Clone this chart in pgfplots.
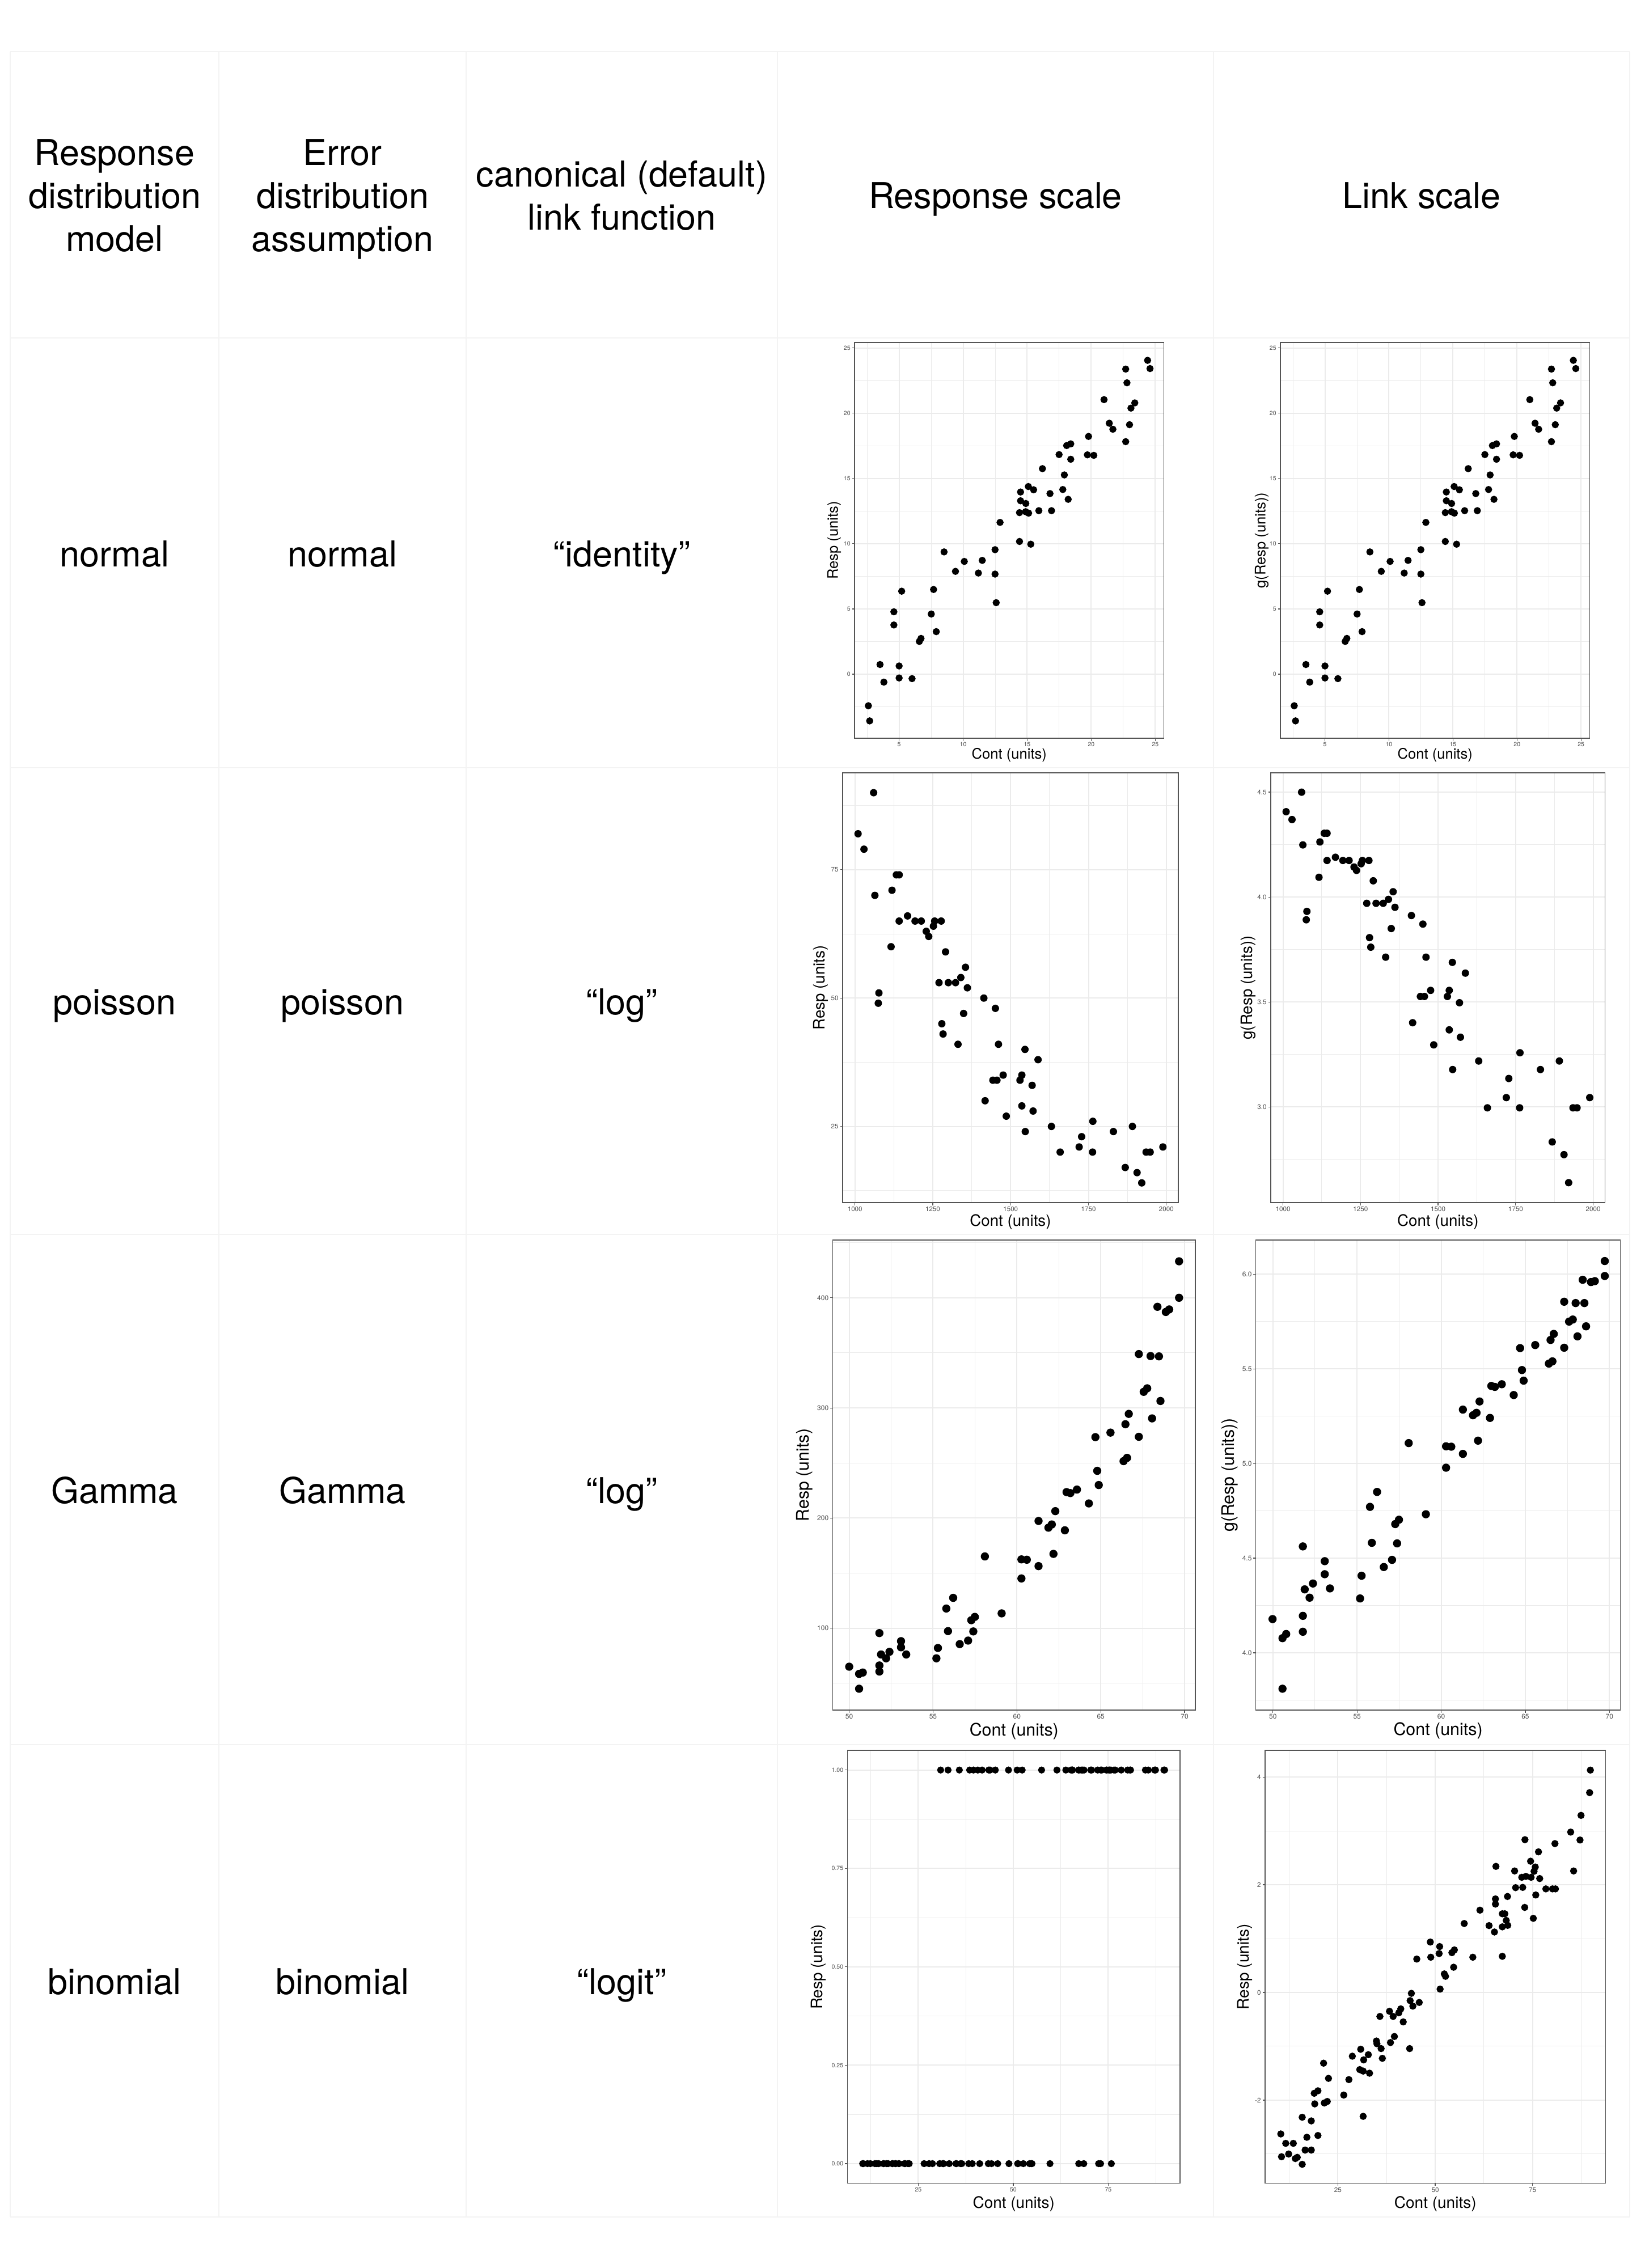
\documentclass[border=0pt]{standalone}
\usepackage{pgfplots}
\pgfplotsset{compat=1.18}
\usepackage{pgfplotstable}
\usepackage{fontspec}
\setmainfont{TeX Gyre Heros}
\definecolor{ggborder}{HTML}{555555}
\definecolor{ggtick}{HTML}{4D4D4D}
\definecolor{gggrid}{HTML}{EBEBEB}
\definecolor{tabgrid}{HTML}{F3F3F3}
\newcommand\tfont{\fontsize{17.9}{21.9}\selectfont}

\pgfplotstableread{
x y
2.60 -2.42
2.70 -3.58
3.51 0.74
3.81 -0.61
4.59 4.78
4.59 3.77
5.20 6.36
5.00 0.63
5.00 -0.29
6.01 -0.34
6.58 2.51
6.71 2.74
7.51 4.61
7.69 6.49
7.90 3.26
8.51 9.37
9.40 7.88
10.09 8.64
11.19 7.75
11.49 8.72
12.49 9.54
12.49 7.67
12.58 5.48
12.88 11.63
14.40 12.38
14.40 10.17
14.48 13.96
14.48 13.29
14.89 13.08
14.88 12.45
15.09 14.38
15.11 12.34
15.28 9.96
15.50 14.13
15.91 12.53
16.19 15.75
16.78 13.84
16.90 12.53
17.49 16.83
17.78 14.15
17.90 15.27
18.08 17.52
18.20 13.40
18.40 17.65
18.40 16.47
19.70 16.81
19.79 18.22
20.20 16.77
21.00 21.04
21.41 19.23
21.69 18.77
22.69 23.38
22.79 22.33
22.69 17.82
22.99 19.12
23.10 20.39
23.40 20.79
24.40 24.05
24.59 23.42
}\tblNormal

\pgfplotstableread{
x y g
1010 82 4.4067
1029 79 4.3694
1060 90 4.4998
1064 70 4.2485
1077 51 3.9318
1075 49 3.8918
1116 60 4.0943
1119 71 4.2627
1133 74 4.3041
1142 74 4.3041
1142 65 4.1744
1169 66 4.1897
1193 65 4.1744
1213 65 4.1744
1229 63 4.1431
1237 62 4.1271
1252 64 4.1589
1256 65 4.1744
1277 65 4.1744
1270 53 3.9703
1291 59 4.0775
1300 53 3.9703
1323 53 3.9703
1340 54 3.9890
1355 56 4.0254
1361 52 3.9512
1279 45 3.8067
1283 43 3.7612
1331 41 3.7136
1349 47 3.8501
1414 50 3.9120
1418 30 3.4012
1443 34 3.5264
1456 34 3.5264
1451 48 3.8712
1461 41 3.7136
1476 35 3.5553
1486 27 3.2958
1530 34 3.5264
1536 35 3.5553
1536 29 3.3673
1546 40 3.6889
1547 24 3.1781
1569 33 3.4965
1572 28 3.3322
1588 38 3.6376
1631 25 3.2189
1659 20 2.9957
1720 21 3.0445
1728 23 3.1355
1763 20 2.9957
1764 26 3.2581
1830 24 3.1781
1868 17 2.8332
1891 25 3.2189
1906 16 2.7726
1921 14 2.6391
1935 20 2.9957
1948 20 2.9957
1989 21 3.0445
}\tblPois

\pgfplotstableread{
x y
50.00 65.1
50.59 58.6
50.81 59.8
50.59 45.1
51.80 95.6
51.80 66.2
51.80 60.7
51.90 76.2
52.20 72.7
52.40 78.6
53.09 88.3
53.09 82.7
53.40 76.2
55.20 72.7
55.29 82.1
55.79 117.9
55.89 97.4
56.20 127.6
56.59 85.6
57.09 88.8
57.28 107.3
57.49 110.3
57.40 97.1
58.09 165.2
59.09 113.5
60.27 145.2
60.27 162.5
60.59 162.2
61.29 156.4
61.29 197.4
61.88 191.3
62.08 194.2
62.18 167.5
62.29 206.3
62.86 188.9
62.96 223.6
63.19 222.7
63.58 225.9
64.29 213.3
64.68 273.5
64.79 242.9
64.88 230.0
65.58 277.6
66.36 251.7
66.57 254.7
66.47 285.2
66.67 294.6
67.27 348.9
67.27 273.8
67.56 314.6
67.77 317.8
67.97 347.1
68.06 290.5
68.38 391.8
68.47 346.8
68.56 306.3
68.88 387.1
69.08 389.4
69.67 433.1
69.67 400.0
}\tblGamma

\pgfplotstableread{
x y
49.98 4.178
50.57 4.077
50.79 4.099
50.57 3.810
51.78 4.562
51.78 4.195
51.78 4.111
51.89 4.335
52.18 4.291
52.38 4.366
53.08 4.484
53.08 4.415
53.39 4.340
55.18 4.287
55.27 4.407
55.77 4.771
55.88 4.581
56.19 4.850
56.59 4.453
57.08 4.491
57.27 4.680
57.49 4.703
57.38 4.578
58.07 5.108
59.09 4.732
60.29 5.091
60.29 4.978
60.60 5.089
61.29 5.051
61.29 5.285
61.89 5.255
62.10 5.268
62.19 5.121
62.28 5.328
62.90 5.241
62.98 5.410
63.19 5.405
63.60 5.419
64.31 5.362
64.69 5.610
64.80 5.494
64.90 5.438
65.59 5.626
66.40 5.528
66.61 5.540
66.50 5.653
66.69 5.685
67.31 5.855
67.31 5.612
67.60 5.750
67.82 5.761
67.99 5.848
68.10 5.672
68.41 5.971
68.51 5.848
68.61 5.725
68.90 5.959
69.13 5.964
69.72 6.070
69.72 5.991
}\tblGammaLink

\pgfplotstableread{
x link resp
10.35 -2.628 0
10.54 -3.051 0
11.62 -2.803 0
12.37 -3.001 0
13.57 -2.803 0
14.08 -3.085 0
14.58 -3.063 0
15.85 -2.318 0
15.85 -3.192 0
16.60 -2.927 0
17.05 -2.690 0
18.18 -2.386 0
18.18 -2.927 0
18.94 -1.873 0
19.07 -2.070 0
19.89 -1.827 0
19.89 -2.657 0
21.34 -1.314 0
21.53 -2.053 0
22.29 -2.025 0
22.60 -1.596 0
26.52 -1.906 0
27.84 -1.619 0
28.72 -1.184 0
30.62 -1.433 0
30.87 -1.055 1
31.50 -1.461 0
31.50 -2.301 0
31.63 -1.252 0
32.83 -1.156 1
33.14 -1.500 0
34.91 -0.902 0
35.04 -0.953 0
35.80 -0.446 1
36.11 -1.043 0
36.43 -1.224 0
38.26 -0.350 0
38.51 -0.931 1
39.20 -0.446 0
39.52 -0.818 1
40.66 -0.378 1
41.16 -0.305 0
41.79 -0.547 1
43.43 -1.043 0
43.56 -0.152 1
43.88 -0.017 1
44.26 -0.254 0
45.27 0.620 1
45.90 -0.186 0
48.74 0.936 1
48.86 0.654 0
51.01 0.722 1
51.14 0.852 0
51.26 0.062 0
52.34 0.344 1
52.65 0.299 0
54.29 0.739 0
54.92 0.790 0
54.73 0.468 0
57.45 1.280 1
59.66 0.654 0
61.49 1.528 1
63.83 1.241 1
65.21 1.122 1
65.47 1.737 1
65.47 1.641 1
65.59 2.341 1
67.23 1.461 1
67.23 1.218 0
67.23 0.671 1
67.87 1.461 1
68.24 1.337 1
68.56 1.782 0
68.62 1.246 1
70.39 2.256 1
70.64 1.946 1
72.22 2.138 1
72.47 1.951 0
72.98 1.579 0
73.04 2.837 1
73.29 2.155 1
74.49 2.437 1
74.62 2.138 1
75.19 1.376 1
75.38 2.250 1
75.69 2.329 1
75.82 1.810 0
76.52 2.611 1
76.83 2.115 1
78.41 1.923 1
80.11 1.923 1
80.74 2.764 1
80.87 1.923 1
84.78 2.978 1
85.54 2.256 1
87.18 2.831 1
87.44 3.288 1
89.65 3.711 1
89.84 4.129 1
}\tblBin

\pgfplotsset{
  gg/.style={
    scale only axis, anchor=south west,
    axis line style={draw=ggborder, line width=0.12mm},
    grid=both,
    major grid style={draw=gggrid, line width=0.2mm},
    minor grid style={draw=gggrid, line width=0.1mm},
    tick align=outside, tick pos=left,
    major tick length=0.45mm, minor tick length=0mm,
    major tick style={draw=ggborder, line width=0.12mm},
    every axis plot/.append style={only marks, mark=*, mark options={draw=none, fill=black}},
  },
  ggfonts/.style n args={2}{
    tick label style={font=\fontsize{#1}{#1}\selectfont, text=ggtick, inner sep=0.22mm},
    label style={font=\fontsize{#2}{#2}\selectfont, text=black},
  },
}

\begin{document}
\begin{tikzpicture}
\useasboundingbox (0,0) rectangle (290mm,-400mm);
\fill[white] (0,0) rectangle (290mm,-400mm);
% table grid
\begin{scope}[draw=tabgrid, line width=0.18mm]
\foreach \x in {1.8,38.6,82.2,137.1,214.0,287.4} \draw (\x mm,-9.1mm) -- (\x mm,-391.0mm);
\foreach \y in {9.1,59.6,135.4,217.7,307.7,391.0} \draw (1.8mm,-\y mm) -- (287.4mm,-\y mm);
\end{scope}
% header
\begin{scope}[every node/.style={anchor=base, font=\tfont, inner sep=0pt}]
\node at (20.2mm,-29.1mm) {Response};
\node at (20.2mm,-36.7mm) {distribution};
\node at (20.2mm,-44.3mm) {model};
\node at (60.4mm,-29.1mm) {Error};
\node at (60.4mm,-36.7mm) {distribution};
\node at (60.4mm,-44.3mm) {assumption};
\node at (109.65mm,-32.9mm) {canonical (default)};
\node at (109.65mm,-40.5mm) {link function};
\node at (175.55mm,-36.7mm) {Response scale};
\node at (250.7mm,-36.7mm) {Link scale};
% rows
\node at (20.2mm,-99.9mm) {normal};
\node at (60.4mm,-99.9mm) {normal};
\node at (109.65mm,-99.9mm) {“identity”};
\node at (20.2mm,-178.95mm) {poisson};
\node at (60.4mm,-178.95mm) {poisson};
\node at (109.65mm,-178.95mm) {“log”};
\node at (20.2mm,-265.1mm) {Gamma};
\node at (60.4mm,-265.1mm) {Gamma};
\node at (109.65mm,-265.1mm) {“log”};
\node at (20.2mm,-351.75mm) {binomial};
\node at (60.4mm,-351.75mm) {binomial};
\node at (109.65mm,-351.75mm) {“logit”};
\end{scope}

% ---- Row 1: normal
\begin{axis}[gg, ggfonts={2.99}{7.28}, at={(150.7mm,-130.2mm)}, width=54.57mm, height=69.8mm,
  xmin=1.52, xmax=25.68, ymin=-4.91, ymax=25.42,
  xtick={5,10,15,20,25}, xticklabels={5,10,15,20,25},
  ytick={0,5,10,15,20,25}, yticklabels={0,5,10,15,20,25},
  minor xtick={2.5,7.5,12.5,17.5,22.5}, minor ytick={-2.5,2.5,7.5,12.5,17.5,22.5},
  xlabel={Cont (units)}, ylabel={Resp (units)},
  xlabel style={at={(axis description cs:0.5,-0.0424)}, anchor=center},
  ylabel style={at={(axis description cs:-0.066,0.5)}, anchor=center}]
\addplot[mark size=0.56mm] table[x=x,y=y]{\tblNormal};
\end{axis}
\begin{axis}[gg, ggfonts={2.99}{7.28}, at={(225.8mm,-130.2mm)}, width=54.55mm, height=69.8mm,
  xmin=1.52, xmax=25.68, ymin=-4.91, ymax=25.42,
  xtick={5,10,15,20,25}, xticklabels={5,10,15,20,25},
  ytick={0,5,10,15,20,25}, yticklabels={0,5,10,15,20,25},
  minor xtick={2.5,7.5,12.5,17.5,22.5}, minor ytick={-2.5,2.5,7.5,12.5,17.5,22.5},
  xlabel={Cont (units)}, ylabel={g(Resp (units))},
  xlabel style={at={(axis description cs:0.5,-0.0424)}, anchor=center},
  ylabel style={at={(axis description cs:-0.0605,0.5)}, anchor=center}]
\addplot[mark size=0.56mm] table[x=x,y=y]{\tblNormal};
\end{axis}

% ---- Row 2: poisson
\begin{axis}[gg, ggfonts={3.3}{7.88}, at={(148.6mm,-212.1mm)}, width=59.2mm, height=75.8mm,
  xmin=960.5, xmax=2038.5, ymin=10.16, ymax=93.87,
  xtick={1000,1250,1500,1750,2000}, xticklabels={1000,1250,1500,1750,2000},
  ytick={25,50,75}, yticklabels={25,50,75},
  minor xtick={1125,1375,1625,1875}, minor ytick={12.5,37.5,62.5,87.5},
  xlabel={Cont (units)}, ylabel={Resp (units)},
  xlabel style={at={(axis description cs:0.5,-0.0449)}, anchor=center},
  ylabel style={at={(axis description cs:-0.0659,0.5)}, anchor=center}]
\addplot[mark size=0.58mm] table[x=x,y=y]{\tblPois};
\end{axis}
\begin{axis}[gg, ggfonts={3.33}{7.9}, at={(224.1mm,-212.1mm)}, width=58.96mm, height=75.8mm,
  xmin=960.5, xmax=2038.5, ymin=2.544, ymax=4.592,
  xtick={1000,1250,1500,1750,2000}, xticklabels={1000,1250,1500,1750,2000},
  ytick={3,3.5,4,4.5}, yticklabels={3.0,3.5,4.0,4.5},
  minor xtick={1125,1375,1625,1875}, minor ytick={2.75,3.25,3.75,4.25},
  xlabel={Cont (units)}, ylabel={g(Resp (units))},
  xlabel style={at={(axis description cs:0.5,-0.0445)}, anchor=center},
  ylabel style={at={(axis description cs:-0.0678,0.5)}, anchor=center}]
\addplot[mark size=0.58mm] table[x=x,y=g]{\tblPois};
\end{axis}

% ---- Row 3: Gamma
\begin{axis}[gg, ggfonts={3.41}{8.65}, at={(146.86mm,-301.6mm)}, width=63.94mm, height=82.9mm,
  xmin=49.02, xmax=70.64, ymin=25.7, ymax=452.4,
  xtick={50,55,60,65,70}, xticklabels={50,55,60,65,70},
  ytick={100,200,300,400}, yticklabels={100,200,300,400},
  minor xtick={52.5,57.5,62.5,67.5}, minor ytick={50,150,250,350,450},
  xlabel={Cont (units)}, ylabel={Resp (units)},
  xlabel style={at={(axis description cs:0.5,-0.0446)}, anchor=center},
  ylabel style={at={(axis description cs:-0.0782,0.5)}, anchor=center}]
\addplot[mark size=0.65mm] table[x=x,y=y]{\tblGamma};
\end{axis}
\begin{axis}[gg, ggfonts={3.41}{8.65}, at={(221.48mm,-301.6mm)}, width=64.25mm, height=82.9mm,
  xmin=48.99, xmax=70.64, ymin=3.697, ymax=6.181,
  xtick={50,55,60,65,70}, xticklabels={50,55,60,65,70},
  ytick={4,4.5,5,5.5,6}, yticklabels={4.0,4.5,5.0,5.5,6.0},
  minor xtick={52.5,57.5,62.5,67.5}, minor ytick={3.75,4.25,4.75,5.25,5.75},
  xlabel={Cont (units)}, ylabel={g(Resp (units))},
  xlabel style={at={(axis description cs:0.5,-0.0434)}, anchor=center},
  ylabel style={at={(axis description cs:-0.0716,0.5)}, anchor=center}]
\addplot[mark size=0.65mm] table[x=x,y=y]{\tblGammaLink};
\end{axis}

% ---- Row 4: binomial
\begin{axis}[gg, ggfonts={3.0}{7.94}, at={(149.46mm,-385.06mm)}, width=58.64mm, height=76.36mm,
  xmin=6.36, xmax=93.9, ymin=-0.05, ymax=1.05,
  xtick={25,50,75}, xticklabels={25,50,75},
  ytick={0,0.25,0.5,0.75,1}, yticklabels={0.00,0.25,0.50,0.75,1.00},
  minor xtick={12.5,37.5,62.5,87.5}, minor ytick={0.125,0.375,0.625,0.875},
  xlabel={Cont (units)}, ylabel={Resp (units)},
  xlabel style={at={(axis description cs:0.5,-0.0471)}, anchor=center},
  ylabel style={at={(axis description cs:-0.088,0.5)}, anchor=center}]
\addplot[mark size=0.55mm] table[x=x,y=resp]{\tblBin};
\end{axis}
\begin{axis}[gg, ggfonts={3.33}{7.97}, at={(223.1mm,-385.06mm)}, width=60.05mm, height=76.36mm,
  xmin=6.32, xmax=93.75, ymin=-3.545, ymax=4.496,
  xtick={25,50,75}, xticklabels={25,50,75},
  ytick={-2,0,2,4}, yticklabels={-2,0,2,4},
  minor xtick={12.5,37.5,62.5,87.5}, minor ytick={-3,-1,1,3},
  xlabel={Cont (units)}, ylabel={Resp (units)},
  xlabel style={at={(axis description cs:0.5,-0.0471)}, anchor=center},
  ylabel style={at={(axis description cs:-0.0593,0.5)}, anchor=center}]
\addplot[mark size=0.56mm] table[x=x,y=link]{\tblBin};
\end{axis}
\end{tikzpicture}
\end{document}
